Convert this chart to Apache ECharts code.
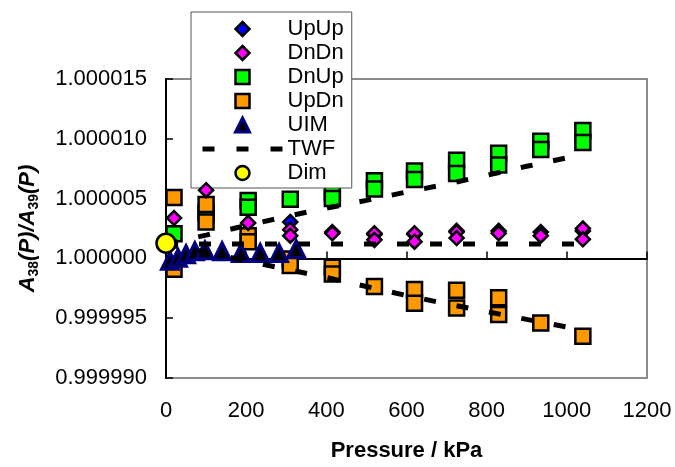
<!DOCTYPE html>
<html>
<head>
<meta charset="utf-8">
<script src="https://cdn.jsdelivr.net/npm/echarts@6/dist/echarts.min.js"></script>
<style>
html,body{margin:0;padding:0;background:#fff;}
#chart{width:675px;height:467px;}
</style>
</head>
<body>
<div id="chart"></div>
<script>
// Pressure (kPa) and ratio A38(P)/A39(P)
const upUpP   = [310, 415, 520, 620, 725, 830, 935, 1040];
const upUpV   = [1.00000305, 1.0000022, 1.0000020, 1.0000020, 1.0000023, 1.0000023, 1.0000022, 1.0000023];

const dnDnP   = [20, 100, 205, 310, 310, 415, 520, 520, 620, 620, 725, 725, 830, 935, 1040, 1040];
const dnDnV   = [1.00000337, 1.0000057, 1.00000297, 1.0000024, 1.0000019, 1.0000021, 1.0000021, 1.00000155, 1.0000021, 1.0000014, 1.0000022, 1.0000017, 1.0000021, 1.0000019, 1.0000025, 1.0000016];

const dnUpP   = [20, 100, 205, 205, 310, 415, 415, 520, 520, 620, 620, 725, 725, 830, 830, 935, 935, 1040, 1040];
const dnUpV   = [1.00000207, 1.0000038, 1.00000485, 1.00000427, 1.00000495, 1.0000055, 1.0000050, 1.0000065, 1.0000058, 1.0000073, 1.0000066, 1.0000082, 1.0000071, 1.0000088, 1.0000078, 1.0000098, 1.0000091, 1.0000107, 1.0000097];

const upDnP   = [20, 20, 100, 100, 205, 205, 310, 310, 415, 415, 520, 620, 620, 725, 725, 830, 830, 935, 1040];
const upDnV   = [1.0000051, 0.9999991, 1.0000045, 1.00000305, 1.0000019, 1.0000014, 0.99999995, 0.9999994, 0.99999925, 0.9999987, 0.99999765, 0.9999974, 0.99999624, 0.99999733, 0.99999586, 0.9999967, 0.9999953, 0.9999946, 0.9999935];

const uimP    = [10, 30, 50, 72, 97, 140, 187, 235, 282, 325];
const uimV    = [0.9999998, 1.00000005, 1.00000035, 1.0000006, 1.00000068, 1.0000006, 1.00000046, 1.00000046, 1.00000046, 1.00000078];

const twfUpperP = [0, 100, 200, 300, 400, 500, 600, 700, 800, 900, 1040];
const twfUpperV = [1.0000012, 1.00000195, 1.00000275, 1.0000035, 1.0000042, 1.00000485, 1.00000555, 1.0000062, 1.00000695, 1.0000077, 1.0000087];
const twfMidP   = [0, 1040];
const twfMidV   = [1.0000012, 1.0000012];
const twfLowerP = [0, 100, 200, 300, 400, 500, 600, 700, 800, 900, 1040];
const twfLowerV = [1.0000012, 1.0000005, 0.9999998, 0.9999991, 0.9999984, 0.99999765, 0.9999969, 0.9999962, 0.99999555, 0.9999949, 0.999994];

const dimP = [0];
const dimV = [1.00000127];

const legendNames = ['UpUp', 'DnDn', 'DnUp', 'UpDn', 'UIM', 'TWF', 'Dim'];
const xTicks = { min: 0, max: 1200, interval: 200 };
const yTicksPpm = { min: -10, max: 15, interval: 5 }; // deviation from 1 in units of 1e-6

const FONT = '"Liberation Sans", Arial, sans-serif';
const toPpm = v => (v - 1) * 1e6;
const pairs = (ps, vs) => ps.map((p, i) => [p, toPpm(vs[i])]);

// legend icon shapes (unit paths so they keep their aspect inside the legend slot)
const ICON_DIAMOND = 'path://M0,-1L1,0L0,1L-1,0Z';
const ICON_SQUARE = 'path://M0,0L1,0L1,1L0,1Z';
const ICON_TRIANGLE = 'path://M0,-1L1,1L-1,1Z';
const legendIcons = { UpUp: ICON_DIAMOND, DnDn: ICON_DIAMOND, DnUp: ICON_SQUARE, UpDn: ICON_SQUARE, UIM: ICON_TRIANGLE };

const chart = echarts.init(document.getElementById('chart'), null, { renderer: 'canvas' });

const scatter = (name, ps, vs, symbol, size, color, borderColor, borderWidth, z) => ({
  name, type: 'scatter', data: pairs(ps, vs), symbol, symbolSize: size, z,
  itemStyle: { color, borderColor, borderWidth, opacity: 1 },
  emphasis: { disabled: true }, animation: false
});
const dashLine = (name, ps, vs) => ({
  name, type: 'line', data: pairs(ps, vs), symbol: 'none', z: 7,
  lineStyle: { color: '#000', width: 5, type: [12, 21], cap: 'butt' },
  itemStyle: { color: '#000' },
  emphasis: { disabled: true }, animation: false
});

const option = {
  animation: false,
  backgroundColor: '#fff',
  textStyle: { fontFamily: FONT },
  grid: { left: 166, right: 28, top: 79, bottom: 82, show: true, borderColor: '#8c8c8c', borderWidth: 2, backgroundColor: 'transparent' },
  legend: {
    orient: 'vertical', left: 191, top: 12,
    padding: [6, 8, 4, 9], itemGap: 2, itemWidth: 80, itemHeight: 14,
    symbolKeepAspect: true,
    backgroundColor: '#fff', borderColor: '#555', borderWidth: 1,
    textStyle: { fontFamily: FONT, fontSize: 22, color: '#000', lineHeight: 22 },
    itemStyle: { borderWidth: 'inherit' },
    lineStyle: { width: 5, type: [12, 22], cap: 'butt', color: '#000' },
    data: legendNames.map(n => {
      if (n === 'TWF') return { name: n, itemStyle: { opacity: 0 } };
      if (legendIcons[n]) return { name: n, icon: legendIcons[n] };
      return { name: n };
    }),
    selectedMode: false
  },
  xAxis: {
    type: 'value', min: xTicks.min, max: xTicks.max, interval: xTicks.interval,
    name: 'Pressure / kPa', nameLocation: 'middle', nameGap: 62,
    nameTextStyle: { fontFamily: FONT, fontSize: 22, fontWeight: 'bold', color: '#000' },
    axisLine: { show: true, lineStyle: { color: '#000', width: 2 } },
    axisTick: { show: true, inside: true, length: 7, lineStyle: { color: '#000', width: 1.5 } },
    axisLabel: { fontFamily: FONT, fontSize: 22, color: '#000', margin: 22, formatter: v => String(v) },
    splitLine: { show: false }
  },
  yAxis: {
    type: 'value', min: yTicksPpm.min, max: yTicksPpm.max, interval: yTicksPpm.interval,
    name: '{i|A}{s|38}{i|(P)/A}{s|39}{i|(P)}', nameLocation: 'middle', nameRotate: 90, nameGap: 125,
    nameTextStyle: {
      fontFamily: FONT, color: '#000',
      rich: {
        i: { fontFamily: FONT, fontSize: 22, fontWeight: 'bold', fontStyle: 'italic', color: '#000', lineHeight: 22, verticalAlign: 'top' },
        s: { fontFamily: FONT, fontSize: 14, fontWeight: 'bold', color: '#000', lineHeight: 24, verticalAlign: 'bottom' }
      }
    },
    axisLine: { show: true, lineStyle: { color: '#000', width: 2 } },
    axisTick: { show: true, inside: true, length: 7, lineStyle: { color: '#000', width: 1.5 } },
    axisLabel: { fontFamily: FONT, fontSize: 22, color: '#000', margin: 19,
      formatter: v => (1 + v * 1e-6).toFixed(6) },
    splitLine: { show: false }
  },
  series: [
    scatter('UpUp', upUpP, upUpV, 'diamond', 14, '#0000ff', '#000', 2.5, 4),
    scatter('DnDn', dnDnP, dnDnV, 'diamond', 14, '#ff00ff', '#000', 2.5, 5),
    scatter('DnUp', dnUpP, dnUpV, 'rect', 15, '#00ff00', '#000', 2.5, 2),
    scatter('UpDn', upDnP, upDnV, 'rect', 15, '#ff9900', '#000', 2.5, 3),
    scatter('UIM', uimP, uimV, 'triangle', 17, '#000000', '#000080', 3, 6),
    dashLine('TWF', twfUpperP, twfUpperV),
    dashLine('TWF', twfMidP, twfMidV),
    dashLine('TWF', twfLowerP, twfLowerV),
    scatter('Dim', dimP, dimV, 'circle', 19, '#ffff00', '#000', 2.5, 8)
  ]
};
chart.setOption(option);
</script>
</body>
</html>
